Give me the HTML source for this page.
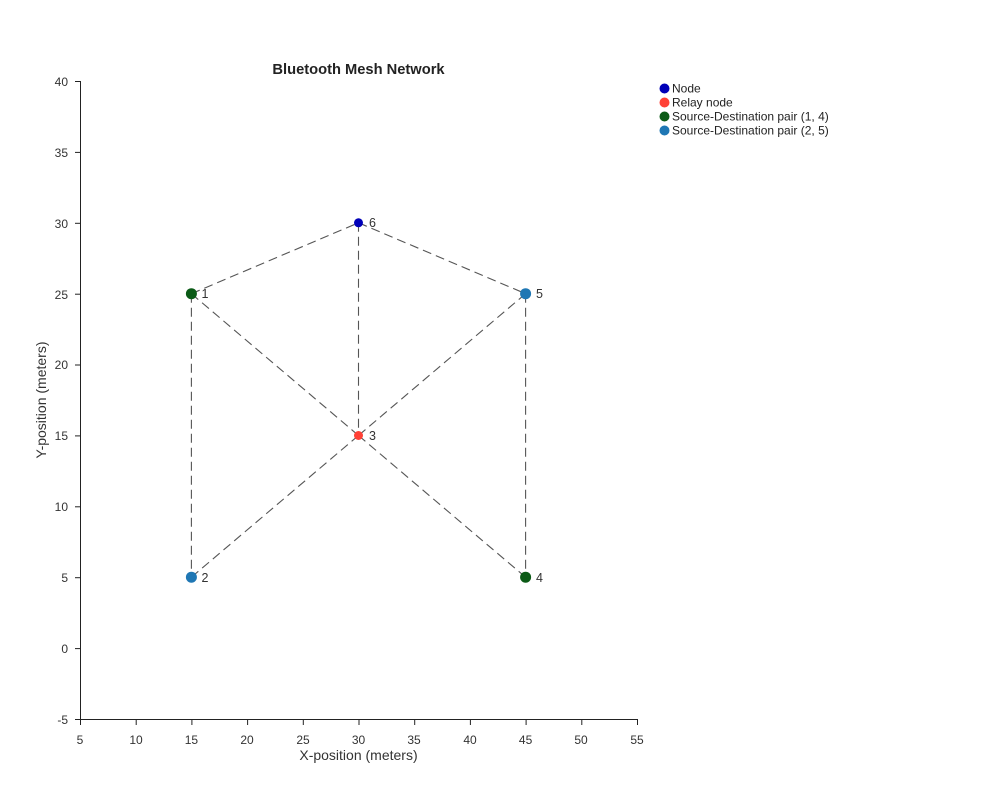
<!DOCTYPE html>
<html><head><meta charset="utf-8"><style>
html,body{margin:0;padding:0;background:#fff;}
svg{display:block;font-family:"Liberation Sans",Arial,sans-serif;}
</style></head><body>
<svg width="1000" height="800" viewBox="0 0 1000 800" xmlns="http://www.w3.org/2000/svg">
<rect width="1000" height="800" fill="#fff"/>
<text x="358.5" y="74" text-anchor="middle" font-size="14.7" font-weight="bold" fill="#222">Bluetooth Mesh Network</text>
<g stroke="#555" stroke-width="1.1" stroke-dasharray="9,5" fill="none">
<line x1="191.4" y1="293.7" x2="358.5" y2="222.8"/>
<line x1="358.5" y1="222.8" x2="525.6" y2="293.7"/>
<line x1="358.5" y1="222.8" x2="358.5" y2="435.5"/>
<line x1="191.4" y1="293.7" x2="358.5" y2="435.5"/>
<line x1="191.4" y1="293.7" x2="191.4" y2="577.2"/>
<line x1="525.6" y1="293.7" x2="358.5" y2="435.5"/>
<line x1="525.6" y1="293.7" x2="525.6" y2="577.2"/>
<line x1="358.5" y1="435.5" x2="191.4" y2="577.2"/>
<line x1="358.5" y1="435.5" x2="525.6" y2="577.2"/>
</g>
<g stroke="#222" stroke-width="1" fill="none">
<line x1="80.5" y1="81" x2="80.5" y2="719"/>
<line x1="80" y1="719.5" x2="637" y2="719.5"/>
</g>
<g stroke="#222" stroke-width="1">
<line x1="75" y1="81.5" x2="80" y2="81.5"/>
<line x1="75" y1="152.4" x2="80" y2="152.4"/>
<line x1="75" y1="223.3" x2="80" y2="223.3"/>
<line x1="75" y1="294.2" x2="80" y2="294.2"/>
<line x1="75" y1="365" x2="80" y2="365"/>
<line x1="75" y1="435.9" x2="80" y2="435.9"/>
<line x1="75" y1="506.8" x2="80" y2="506.8"/>
<line x1="75" y1="577.7" x2="80" y2="577.7"/>
<line x1="75" y1="648.6" x2="80" y2="648.6"/>
<line x1="75" y1="719.5" x2="80" y2="719.5"/>
<line x1="80.5" y1="719" x2="80.5" y2="725"/>
<line x1="136.2" y1="719" x2="136.2" y2="725"/>
<line x1="191.9" y1="719" x2="191.9" y2="725"/>
<line x1="247.6" y1="719" x2="247.6" y2="725"/>
<line x1="303.3" y1="719" x2="303.3" y2="725"/>
<line x1="359" y1="719" x2="359" y2="725"/>
<line x1="414.7" y1="719" x2="414.7" y2="725"/>
<line x1="470.4" y1="719" x2="470.4" y2="725"/>
<line x1="526.1" y1="719" x2="526.1" y2="725"/>
<line x1="581.8" y1="719" x2="581.8" y2="725"/>
<line x1="637.5" y1="719" x2="637.5" y2="725"/>
</g>
<g font-size="12" fill="#333" text-anchor="end">
<text x="68" y="86">40</text>
<text x="68" y="157">35</text>
<text x="68" y="228">30</text>
<text x="68" y="299">25</text>
<text x="68" y="369">20</text>
<text x="68" y="440">15</text>
<text x="68" y="511">10</text>
<text x="68" y="582">5</text>
<text x="68" y="653">0</text>
<text x="68" y="724">-5</text>
</g>
<g font-size="12" fill="#333" text-anchor="middle">
<text x="80" y="744">5</text>
<text x="136" y="744">10</text>
<text x="191.4" y="744">15</text>
<text x="247" y="744">20</text>
<text x="303" y="744">25</text>
<text x="358.5" y="744">30</text>
<text x="414" y="744">35</text>
<text x="470" y="744">40</text>
<text x="525.6" y="744">45</text>
<text x="581" y="744">50</text>
<text x="637" y="744">55</text>
</g>
<text x="358.5" y="760" text-anchor="middle" font-size="14" fill="#333">X-position (meters)</text>
<text transform="translate(46,400) rotate(-90)" text-anchor="middle" font-size="14" fill="#333">Y-position (meters)</text>
<circle cx="191.4" cy="293.7" r="5.5" fill="#0b5a16"/>
<circle cx="191.4" cy="577.2" r="5.5" fill="#1f77b4"/>
<circle cx="358.5" cy="435.5" r="4.5" fill="#ff4136"/>
<circle cx="525.6" cy="577.2" r="5.5" fill="#0b5a16"/>
<circle cx="525.6" cy="293.7" r="5.5" fill="#1f77b4"/>
<circle cx="358.5" cy="222.8" r="4.5" fill="#0000b8"/>
<g font-size="12.5" fill="#333">
<text x="201.5" y="298">1</text>
<text x="201.5" y="582">2</text>
<text x="369" y="440">3</text>
<text x="536" y="582">4</text>
<text x="536" y="298">5</text>
<text x="369" y="227">6</text>
</g>
<g font-size="12" fill="#222">
<circle cx="664.5" cy="88.5" r="5" fill="#0000b8"/>
<text x="672" y="92.5">Node</text>
<circle cx="664.5" cy="102.5" r="5" fill="#ff4136"/>
<text x="672" y="106.5">Relay node</text>
<circle cx="664.5" cy="116.5" r="5" fill="#0b5a16"/>
<text x="672" y="120.5">Source-Destination pair (1, 4)</text>
<circle cx="664.5" cy="130.5" r="5" fill="#1f77b4"/>
<text x="672" y="134.5">Source-Destination pair (2, 5)</text>
</g>
</svg>
</body></html>
